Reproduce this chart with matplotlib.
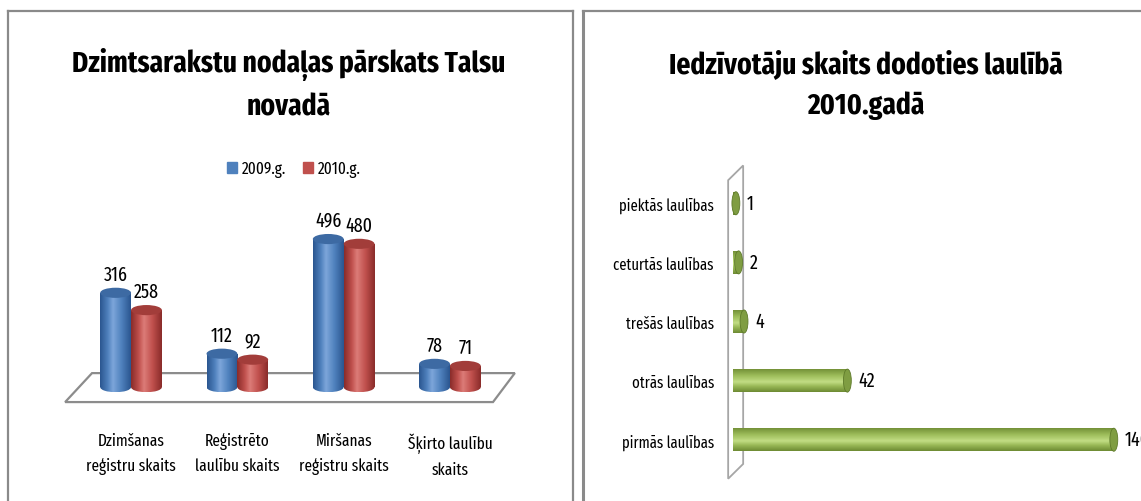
import numpy as np
import matplotlib.pyplot as plt
from matplotlib.patches import Rectangle, Ellipse, Polygon, Patch
from matplotlib.colors import LinearSegmentedColormap
from matplotlib.lines import Line2D

plt.rcParams['font.family'] = ['Fira Sans Extra Condensed', 'DejaVu Sans']

# left chart data
categories = ["Dzimšanas\nreģistru skaits", "Reģistrēto\nlaulību skaits",
              "Miršanas\nreģistru skaits", "Šķirto laulību\nskaits"]
years = ["2009.g.", "2010.g."]
vals_2009 = [316, 112, 496, 78]
vals_2010 = [258, 92, 480, 71]

# right chart data (bottom to top)
marriages = ["pirmās laulības", "otrās laulības", "trešās laulības",
             "ceturtās laulības", "piektās laulības"]
marriage_counts = [140, 42, 4, 2, 1]

W, H = 1141, 502
fig = plt.figure(figsize=(W / 100, H / 100), dpi=100)


def px_axes(left, top, right, bottom):
    return fig.add_axes([left / W, 1 - bottom / H, (right - left) / W, (bottom - top) / H])


def shade(base, dark, light):
    return LinearSegmentedColormap.from_list(
        "c", [(0, dark), (0.25, base), (0.42, light), (0.7, base), (1, dark)])


BLUE = shade("#4F81BD", "#2B5690", "#7DA6DA")
RED = shade("#C0504D", "#8A2C2A", "#DC7C78")
GREEN = shade("#9BBB59", "#6E8B33", "#C2DD84")
grad = np.linspace(0, 1, 64)


def vcyl(ax, x, w, h, cmap, top, eh):
    body = Rectangle((x - w / 2, 0), w, h, transform=ax.transData)
    im = ax.imshow(grad[None, :], cmap=cmap, aspect='auto',
                   extent=[x - w / 2, x + w / 2, 0, h], zorder=3)
    im.set_clip_path(body)
    bot = Ellipse((x, 0), w, eh, transform=ax.transData)
    im2 = ax.imshow(grad[None, :], cmap=cmap, aspect='auto',
                    extent=[x - w / 2, x + w / 2, -eh / 2, 0], zorder=3)
    im2.set_clip_path(bot)
    ax.add_patch(Ellipse((x, h), w, eh, facecolor=top, edgecolor='none', zorder=4))


def hcyl(ax, y, t, v, cmap, cap, ew):
    body = Rectangle((0, y - t / 2), v, t, transform=ax.transData)
    im = ax.imshow(grad[::-1, None], cmap=cmap, aspect='auto',
                   extent=[0, v, y - t / 2, y + t / 2], zorder=3)
    im.set_clip_path(body)
    ax.add_patch(Ellipse((v, y), ew, t, facecolor=cap, edgecolor='#5E7A2A',
                         lw=0.6, zorder=4))


# ---------- left chart ----------
ax1 = px_axes(46, 209, 535, 418)
floor = Polygon([(-0.62, -50), (3.405, -50), (3.61, 47), (-0.367, 47)], closed=True,
                facecolor='white', edgecolor='#8C8C8C', lw=1.6, zorder=1)
ax1.add_patch(floor)
bw = 0.29
for i in range(len(categories)):
    xb, xr = i - bw / 2, i + bw / 2
    vcyl(ax1, xb, bw, vals_2009[i], BLUE, "#3D6AA3", 34)
    vcyl(ax1, xr, bw, vals_2010[i], RED, "#A23D3A", 34)
    ax1.text(xb, vals_2009[i] + 30, str(vals_2009[i]), ha='center', va='bottom', fontsize=14)
    ax1.text(xr, vals_2010[i] + 30, str(vals_2010[i]), ha='center', va='bottom', fontsize=14)
ax1.set_xlim(-0.8, 3.8)
ax1.set_ylim(-100, 600)
ax1.set_xticks(range(len(categories)), categories, fontsize=12, linespacing=1.65)
ax1.set_yticks([])
ax1.tick_params(length=0, pad=11)
ax1.set_frame_on(False)

fig.text(289 / W, 1 - 85 / H, "Dzimtsarakstu nodaļas pārskats Talsu\nnovadā",
         ha='center', va='center', fontsize=21.5, fontweight='bold', linespacing=1.55)
fig.legend([Patch(color="#4F81BD"), Patch(color="#C0504D")], years,
           loc='center', bbox_to_anchor=(294 / W, 1 - 170 / H), ncol=2, frameon=False,
           fontsize=12, handlelength=0.6, handleheight=0.6, handletextpad=0.3,
           columnspacing=1.0)

# ---------- right chart ----------
ax2 = px_axes(725, 157, 1141, 488)
wall = Polygon([(-1.84, -0.66), (-1.84, 4.39), (3.68, 4.64), (3.68, -0.41)], closed=True,
               facecolor='white', edgecolor='#A6A6A6', lw=1.3, zorder=1)
ax2.add_patch(wall)
for i, v in enumerate(marriage_counts):
    hcyl(ax2, i, 0.39, v, GREEN, "#7F9D42", 2.9)
    ax2.text(v + 4, i, str(v), ha='left', va='center', fontsize=14, clip_on=False)
ax2.set_xlim(-3, 150)
ax2.set_ylim(-0.8, 4.8)
ax2.set_yticks(range(len(marriages)), marriages, fontsize=11.5)
ax2.set_xticks([])
ax2.tick_params(length=0, pad=8)
ax2.set_frame_on(False)

fig.text(866 / W, 1 - 85 / H, "Iedzīvotāju skaits dodoties laulībā\n2010.gadā",
         ha='center', va='center', fontsize=21.5, fontweight='bold', linespacing=1.55)

# panel borders
gc = '#8A8A8A'
for xs, ys, lw in [([8, 8], [502, 12], 1.6), ([8, 573], [12, 12], 1.6),
                   ([573, 573], [12, 502], 1.6), ([583, 583], [502, 12], 2.2),
                   ([583, 1141], [12, 12], 1.6)]:
    fig.add_artist(Line2D([x / W for x in xs], [1 - y / H for y in ys],
                          color=gc, lw=lw, transform=fig.transFigure))

fig.savefig("out.png", dpi=100)
